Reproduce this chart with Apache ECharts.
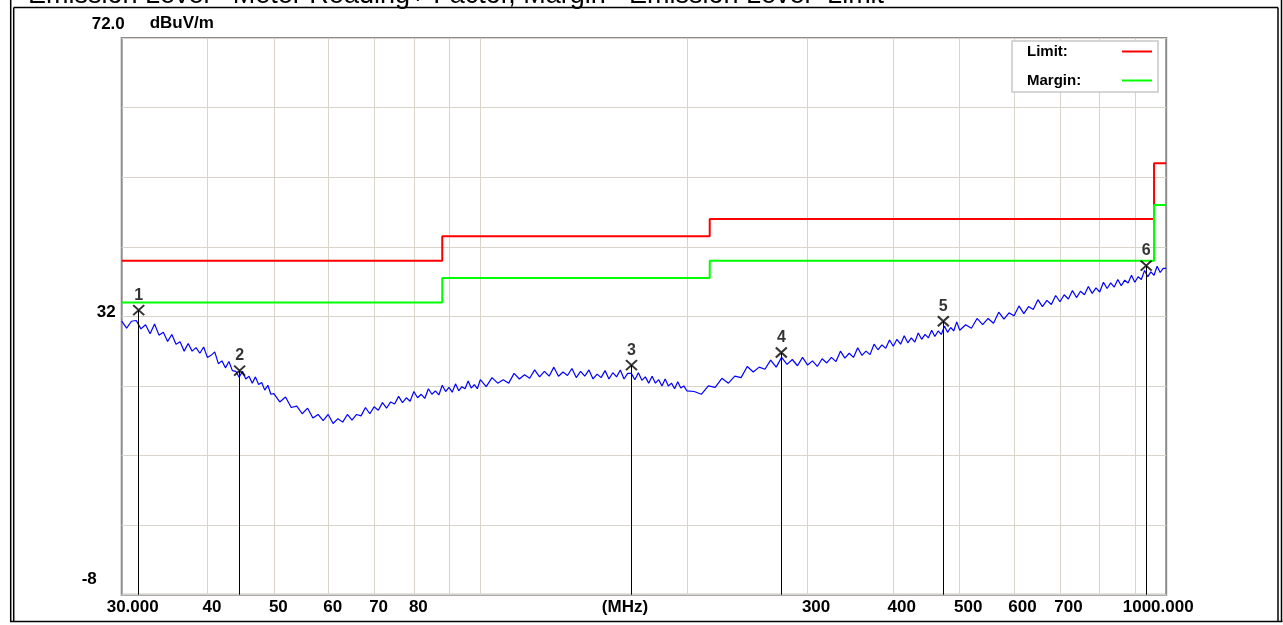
<!DOCTYPE html>
<html><head><meta charset="utf-8">
<script src="https://cdn.jsdelivr.net/npm/echarts@6/dist/echarts.min.js"></script>
<style>html,body{margin:0;padding:0;background:#fff;overflow:hidden}#c{width:1283px;height:625px;}</style>
</head><body><div id="c"></div>
<script>
const traceFreq = [
30,30.5,31,31.5,32,32.5,33,33.5,34,34.5,35,35.5,36,36.5,37,37.5,38,38.5,39,39.5,40,40.5,41,41.5,42,42.5,43,43.5,44,44.5,45,45.5,46,46.5,47,47.5,48,48.5,49,49.5,50,
51,52,53,54,55,56,57,58,59,60,61,62,63,64,65,66,67,68,69,70,71,72,73,74,75,76,77,78,79,80,81,82,83,84,85,86,87,88,89,90,91,92,93,94,95,96,97,98,99,100,
102,104,106,108,110,112,114,116,118,120,122,124,126,128,130,132,134,136,138,140,142,144,146,148,150,152,154,156,158,160,162,164,166,168,170,172,174,176,178,180,182,184,186,188,190,192,194,196,198,200,
205,210,215,220,225,230,235,240,245,250,255,260,265,270,275,280,285,290,295,300,305,310,315,320,325,330,335,340,345,350,355,360,365,370,375,380,385,390,395,400,405,410,415,420,425,430,435,440,445,450,455,460,465,470,475,480,485,490,495,500,
510,520,530,540,550,560,570,580,590,600,610,620,630,640,650,660,670,680,690,700,710,720,730,740,750,760,770,780,790,800,810,820,830,840,850,860,870,880,890,900,910,920,930,940,950,960,970,980,990,1000
];
const traceLevel = [
31.3,30.3,31.3,31.4,30.2,30.8,29.5,30.9,29.3,29.7,28.4,29.4,28.0,28.35,27.0,28.1,27.0,27.5,26.7,27.6,26.1,26.4,26.9,25.2,25.6,24.6,25.5,24.2,24.1,23.25,24.1,23.0,23.4,22.4,23.3,22.2,22.5,21.4,22.1,20.8,20.9,
19.7,20.4,18.9,19.1,18.0,18.8,17.4,17.9,17.0,17.9,16.6,17.3,16.8,17.9,17.1,17.9,17.7,18.9,18.0,19.0,18.5,19.6,18.8,19.7,19.4,20.5,19.6,20.3,19.8,21.2,20.3,20.8,20.2,21.6,20.8,21.3,20.7,22.1,21.2,21.8,21.1,22.3,21.3,21.9,21.6,22.7,21.7,22.2,21.6,22.9,
21.9,23.2,22.4,22.9,22.4,23.8,23.0,23.6,23.1,24.3,23.3,24.1,23.4,24.7,23.4,24.0,23.5,24.5,23.2,24.1,23.4,24.3,23.0,23.7,23.2,24.2,23.0,23.9,23.3,24.3,23.0,23.8,23.8,22.9,23.9,22.8,23.3,22.4,23.4,22.4,22.9,22.0,23.0,22.0,22.4,21.6,22.6,21.7,22.0,21.3,
21.2,20.8,22.0,21.8,23.1,22.4,23.4,23.2,24.8,24.0,24.7,24.4,25.7,24.7,26.1,25.1,25.8,24.9,26.1,25.0,25.6,24.8,25.9,25.3,26.1,25.5,27.0,26.0,26.7,26.1,27.5,26.4,27.0,26.5,28.0,27.2,27.9,27.4,28.6,27.7,28.7,28.0,29.2,28.2,28.9,28.3,29.6,28.7,29.4,28.9,30.0,29.1,29.9,29.4,30.6,29.7,30.4,29.9,31.2,30.0,
30.8,30.3,31.7,30.8,31.7,31.0,32.6,31.6,32.5,32.1,33.5,32.4,33.4,33.0,34.4,33.4,34.3,33.7,35.0,34.1,35.1,34.5,35.7,34.7,35.6,35.1,36.3,35.3,36.1,35.5,36.9,36.0,36.8,36.2,37.3,36.4,37.2,36.8,37.9,36.9,37.7,37.3,38.6,37.7,38.4,37.9,39.2,38.3,38.9,38.9
];
const limitFreq = [30, 88, 216, 960, 1000];
const limitLevel = [40, 43.5, 46, 54, 54];
const marginLevel = [34, 37.5, 40, 48, 48];
const markerFreq = [31.76, 44.57, 166.1, 274.7, 473.2, 935];
const markerLevel = [32.9, 24.2, 25.0, 26.8, 31.3, 39.3];
const markerNames = ['1', '2', '3', '4', '5', '6'];
const xGridValues = [40, 50, 60, 70, 80, 90, 100, 200, 300, 400, 500, 600, 700, 800, 900];
const xLabelValues = [30, 40, 50, 60, 70, 80, 300, 400, 500, 600, 700, 1000];
const yGridValues = [-8, 2, 12, 22, 32, 42, 52, 62, 72];
const yLabelValues = [-8, 32, 72];
const titleText = 'Emission Level= Meter Reading+ Factor, Margin= Emission Level- Limit';

const FONT = '"Liberation Sans", Arial, sans-serif';
const chart = echarts.init(document.getElementById('c'), null, {renderer: 'canvas'});

const zip = (a, b) => a.map((v, i) => [v, b[i]]);

const option = {
  animation: false,
  backgroundColor: '#ffffff',
  grid: {
    left: 121.7, right: 116.8, top: 38, bottom: 30.3,
    containLabel: false, outerBoundsMode: 'none',
    show: true, backgroundColor: '#ffffff', borderColor: '#8c8c8c', borderWidth: 2
  },
  legend: {
    show: true, orient: 'vertical', align: 'right', left: 1012, top: 41,
    padding: [2, 6, 3, 15], itemGap: 12, itemWidth: 30, itemHeight: 2, icon: 'rect',
    backgroundColor: '#ffffff', borderColor: '#c8c8c8', borderWidth: 1.5,
    selectedMode: false,
    formatter: function (name) { return '{n|' + name + '}'; },
    textStyle: {fontFamily: FONT, fontWeight: 'bold', fontSize: 15, color: '#000', lineHeight: 17,
      rich: {n: {width: 90, align: 'left', fontFamily: FONT, fontWeight: 'bold', fontSize: 15, color: '#000', lineHeight: 17}}},
    data: ['Limit:', 'Margin:']
  },
  xAxis: {
    type: 'log', logBase: 10, min: 30, max: 1000,
    axisLine: {show: false},
    axisTick: {show: false, customValues: xGridValues},
    splitLine: {show: true, lineStyle: {color: '#d8d4cc', width: 1}},
    axisLabel: {
      customValues: xLabelValues, margin: 4, color: '#000',
      fontFamily: FONT, fontWeight: 'bold', fontSize: 17, lineHeight: 17,
      formatter: function (v) {
        if (v === 30) return '{a|30.000}';
        if (v === 1000) return '{d|1000.000}';
        if (v < 100) return '{b|' + v + '}';
        return '{c|' + v + '}';
      },
      rich: {
        a: {padding: [0, 0, 0, 22], fontFamily: FONT, fontWeight: 'bold', fontSize: 17, color: '#000'},
        b: {padding: [0, 0, 0, 9], fontFamily: FONT, fontWeight: 'bold', fontSize: 17, color: '#000'},
        c: {padding: [0, 0, 0, 17], fontFamily: FONT, fontWeight: 'bold', fontSize: 17, color: '#000'},
        d: {padding: [0, 16, 0, 0], fontFamily: FONT, fontWeight: 'bold', fontSize: 17, color: '#000'}
      }
    },
    name: '(MHz)', nameLocation: 'middle', nameGap: 4.5, nameMoveOverlap: false,
    nameTextStyle: {fontFamily: FONT, fontWeight: 'bold', fontSize: 17, color: '#000', lineHeight: 17,
      verticalAlign: 'top', padding: [0, 38, 0, 0]}
  },
  yAxis: {
    type: 'value', min: -8, max: 72,
    axisLine: {show: false},
    axisTick: {show: false, customValues: yGridValues},
    splitLine: {show: true, lineStyle: {color: '#d8d4cc', width: 1}},
    axisLabel: {
      customValues: yLabelValues, margin: 40, align: 'left', color: '#000',
      fontFamily: FONT, fontWeight: 'bold', fontSize: 17,
      formatter: function (v) {
        if (v === 72) return '{t|72.0}';
        if (v === 32) return '{m|32}';
        return '{b|-8}';
      },
      rich: {
        t: {padding: [0, 0, 28, 10], fontFamily: FONT, fontWeight: 'bold', fontSize: 17, color: '#000'},
        m: {padding: [0, 0, 8, 15], fontFamily: FONT, fontWeight: 'bold', fontSize: 17, color: '#000'},
        b: {padding: [0, 0, 30, 0], fontFamily: FONT, fontWeight: 'bold', fontSize: 17, color: '#000'}
      }
    },
    name: 'dBuV/m', nameLocation: 'end', nameGap: 15,
    nameTextStyle: {fontFamily: FONT, fontWeight: 'bold', fontSize: 17, color: '#000',
      align: 'left', verticalAlign: 'middle', padding: [0, 0, 0, 28]}
  },
  series: [
    {
      name: 'Emission', type: 'line', data: zip(traceFreq, traceLevel),
      symbol: 'none', lineStyle: {color: '#0000ff', width: 1.2}, itemStyle: {color: '#0000ff'}, z: 3
    },
    {
      name: 'Limit:', type: 'line', step: 'end', data: zip(limitFreq, limitLevel),
      symbol: 'none', color: '#ff0000', lineStyle: {color: '#ff0000', width: 2}, itemStyle: {color: '#ff0000'}, z: 4
    },
    {
      name: 'Margin:', type: 'line', step: 'end', data: zip(limitFreq, marginLevel),
      symbol: 'none', color: '#00ff00', lineStyle: {color: '#00ff00', width: 2}, itemStyle: {color: '#00ff00'}, z: 4
    },
    {
      name: 'Markers', type: 'scatter', z: 5,
      data: markerFreq.map((f, i) => ({value: [f, markerLevel[i]], name: markerNames[i]})),
      symbol: 'path://M0,0L10,10M10,0L0,10', symbolSize: [11, 10],
      itemStyle: {color: 'rgba(0,0,0,0)', borderColor: '#000', borderWidth: 2},
      label: {show: true, position: 'top', distance: 1, formatter: '{b}', color: '#000',
        fontFamily: FONT, fontWeight: 'bold', fontSize: 16},
      markLine: {
        silent: true, symbol: ['none', 'none'], animation: false,
        label: {show: false},
        lineStyle: {color: '#000', width: 1, type: 'solid'},
        emphasis: {disabled: true},
        data: markerFreq.map((f, i) => [{coord: [f, markerLevel[i]]}, {coord: [f, -8]}])
      }
    }
  ],
  graphic: [
    {type: 'text', z: 10, style: {x: 28, y: -4.5, text: titleText, font: '27px ' + FONT, fill: '#000', verticalAlign: 'middle'}},
    {type: 'line', z: 10, shape: {x1: 10.7, y1: 0, x2: 10.7, y2: 621.5}, style: {stroke: '#000', lineWidth: 1.5}},
    {type: 'line', z: 10, shape: {x1: 13.7, y1: 7.5, x2: 13.7, y2: 621.5}, style: {stroke: '#000', lineWidth: 1.5}},
    {type: 'line', z: 10, shape: {x1: 13.7, y1: 7.5, x2: 1278, y2: 7.5}, style: {stroke: '#000', lineWidth: 1.5}},
    {type: 'line', z: 10, shape: {x1: 1278, y1: 7.5, x2: 1278, y2: 621.5}, style: {stroke: '#000', lineWidth: 1.5}},
    {type: 'line', z: 10, shape: {x1: 1281.5, y1: 0, x2: 1281.5, y2: 621.5}, style: {stroke: '#000', lineWidth: 1.5}},
    {type: 'line', z: 10, shape: {x1: 10, y1: 621.5, x2: 1282.5, y2: 621.5}, style: {stroke: '#000', lineWidth: 1.5}}
  ]
};
chart.setOption(option);
</script>
</body></html>
